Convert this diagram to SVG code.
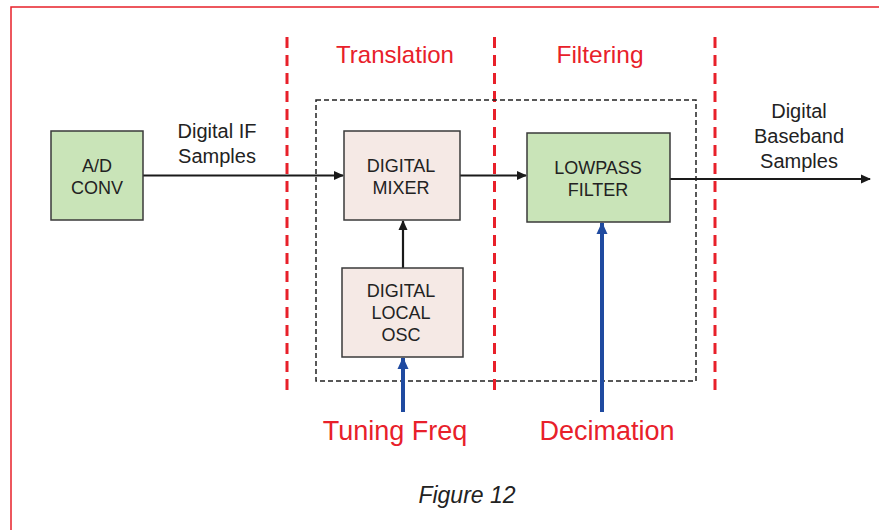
<svg xmlns="http://www.w3.org/2000/svg" width="879" height="530" viewBox="0 0 879 530">
<style>
text{font-family:"Liberation Sans",Arial,sans-serif;text-anchor:middle}
.node{stroke:#3a3a3a;stroke-width:1.5}
.green{fill:#c9e4b8}
.pink{fill:#f5e9e5}
.nt{font-size:18px;fill:#222}
.lbl{font-size:20px;fill:#222}
.red{fill:#e8202a}
.sep{stroke:#e8202a;stroke-width:3;stroke-dasharray:11,7;fill:none}
.conn{stroke:#1a1a1a;stroke-width:2.2;fill:none}
.blue{stroke:#1f4aa0;stroke-width:4;fill:none}
</style>
<defs>
<marker id="ah" markerWidth="10" markerHeight="10" refX="9" refY="5" orient="auto" markerUnits="userSpaceOnUse" viewBox="0 0 10 10"><path d="M0,0.5 L10,5 L0,9.5 z" fill="#1a1a1a"/></marker>
<marker id="bh" markerWidth="12" markerHeight="12" refX="11" refY="6" orient="auto" markerUnits="userSpaceOnUse" viewBox="0 0 12 12"><path d="M0,0.5 L12,6 L0,11.5 z" fill="#1f4aa0"/></marker>
</defs>
<rect width="879" height="530" fill="#fff"/>
<rect x="11" y="7" width="880" height="540" fill="none" stroke="#e8202a" stroke-width="1.5"/>
<g id="separators">
<line class="sep" x1="287" y1="37" x2="287" y2="396"/>
<line class="sep" x1="494.5" y1="37" x2="494.5" y2="396"/>
<line class="sep" x1="715" y1="37" x2="715" y2="396"/>
</g>
<rect id="dds-box" x="316" y="100" width="380" height="281" fill="none" stroke="#222" stroke-width="1.5" stroke-dasharray="5,3"/>
<text class="red" x="395" y="63" font-size="24">Translation</text>
<text class="red" x="600" y="63" font-size="24.5">Filtering</text>
<g id="connectors">
<line class="conn" x1="143" y1="175.5" x2="343" y2="175.5" marker-end="url(#ah)"/>
<line class="conn" x1="460" y1="175.5" x2="526" y2="175.5" marker-end="url(#ah)"/>
<line class="conn" x1="670" y1="179" x2="870" y2="179" marker-end="url(#ah)"/>
<line class="conn" x1="403" y1="268" x2="403" y2="221" marker-end="url(#ah)"/>
<line class="blue" x1="403" y1="412" x2="403" y2="358" marker-end="url(#bh)"/>
<line class="blue" x1="602" y1="412" x2="602" y2="223" marker-end="url(#bh)"/>
</g>
<g id="ad">
<rect class="node green" x="51" y="131" width="92" height="89"/>
<text class="nt" x="97" y="172">A/D</text>
<text class="nt" x="97" y="194">CONV</text>
</g>
<g id="mixer">
<rect class="node pink" x="344" y="131" width="116" height="89"/>
<text class="nt" x="401" y="172">DIGITAL</text>
<text class="nt" x="401" y="194">MIXER</text>
</g>
<g id="lowpass">
<rect class="node green" x="527" y="133" width="143" height="89"/>
<text class="nt" x="598" y="174">LOWPASS</text>
<text class="nt" x="598" y="196">FILTER</text>
</g>
<g id="osc">
<rect class="node pink" x="342" y="268" width="121" height="89"/>
<text class="nt" x="401" y="297">DIGITAL</text>
<text class="nt" x="401" y="319">LOCAL</text>
<text class="nt" x="401" y="341">OSC</text>
</g>
<text class="lbl" x="217" y="138">Digital IF</text>
<text class="lbl" x="217" y="163">Samples</text>
<text class="lbl" x="799" y="118">Digital</text>
<text class="lbl" x="799" y="143">Baseband</text>
<text class="lbl" x="799" y="168">Samples</text>
<text class="red" x="395" y="440" font-size="27">Tuning Freq</text>
<text class="red" x="607" y="440" font-size="27">Decimation</text>
<text x="467" y="503" font-size="23" font-style="italic" fill="#222">Figure 12</text>
</svg>
